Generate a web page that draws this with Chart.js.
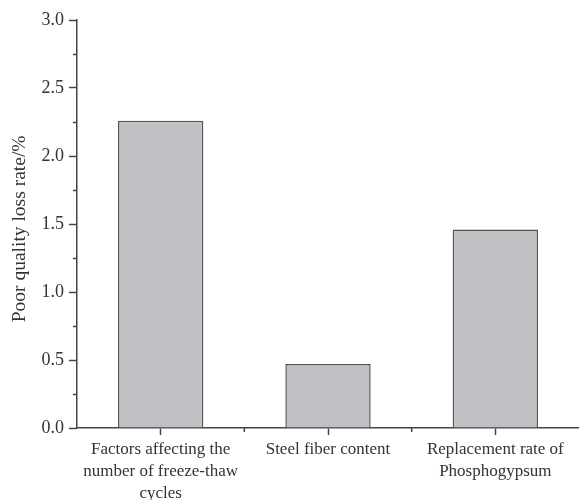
<!DOCTYPE html>
<html>
<head>
<meta charset="utf-8">
<script src="https://cdn.jsdelivr.net/npm/chart.js@4/dist/chart.umd.min.js"></script>
<style>
  html, body { margin: 0; padding: 0; background: #fff; }
  #wrap { width: 579px; height: 500px; }
</style>
</head>
<body>
<div id="wrap"><canvas id="lossChart" width="579" height="500"></canvas></div>
<script>
const categories = [
  ['Factors affecting the', 'number of freeze-thaw', 'cycles'],
  'Steel fiber content',
  ['Replacement rate of', 'Phosphogypsum']
];
const lossRates = [2.26, 0.47, 1.46];
const minorYTicks = [0.25, 0.75, 1.25, 1.75, 2.25, 2.75];

const axisColor = '#444';
const textColor = '#333';
const serif = '"Liberation Serif", "Times New Roman", serif';

// kleine Zwischenstriche (Minor Ticks) auf beiden Achsen
const minorTicks = {
  id: 'minorTicks',
  afterDraw(chart) {
    const { ctx, scales: { x, y } } = chart;
    ctx.save();
    ctx.strokeStyle = axisColor;
    ctx.lineWidth = 1.5;
    ctx.beginPath();
    minorYTicks.forEach(v => {
      const py = Math.round(y.getPixelForValue(v)) + 0.5;
      ctx.moveTo(x.left - 4, py);
      ctx.lineTo(x.left, py);
    });
    for (let i = 0; i < categories.length - 1; i++) {
      const px = (x.getPixelForValue(i) + x.getPixelForValue(i + 1)) / 2;
      ctx.moveTo(px, y.bottom);
      ctx.lineTo(px, y.bottom + 4);
    }
    ctx.stroke();
    ctx.restore();
  }
};

const ctx = document.getElementById('lossChart').getContext('2d');
new Chart(ctx, {
  type: 'bar',
  data: {
    labels: categories,
    datasets: [{
      data: lossRates,
      backgroundColor: '#c0c1c5',
      borderColor: '#555',
      borderWidth: 1.5,
      categoryPercentage: 1,
      barPercentage: 0.51
    }]
  },
  options: {
    responsive: false,
    animation: false,
    layout: { padding: { top: 20, right: 0, left: 0, bottom: 0 } },
    plugins: { legend: { display: false }, tooltip: { enabled: false } },
    scales: {
      x: {
        grid: { offset: false, drawOnChartArea: false, tickLength: 7, tickColor: axisColor, tickWidth: 1.5 },
        border: { color: axisColor, width: 1.5 },
        ticks: { color: textColor, font: { family: serif, size: 17, lineHeight: 1.3 }, padding: 3, maxRotation: 0, autoSkip: false },
        afterFit(scale) { scale.height = 72; }
      },
      y: {
        min: 0,
        max: 3,
        grid: { drawOnChartArea: false, tickLength: 8, tickColor: axisColor, tickWidth: 1.5 },
        border: { color: axisColor, width: 1.5 },
        ticks: {
          stepSize: 0.5,
          color: textColor,
          padding: 5,
          font: { family: serif, size: 18 },
          callback: v => v.toFixed(1)
        },
        title: {
          display: true,
          text: 'Poor quality loss rate/%  ',
          color: textColor,
          font: { family: serif, size: 19.5 },
          padding: { top: 8, bottom: 4 }
        },
        afterFit(scale) { scale.width = 77; }
      }
    }
  },
  plugins: [minorTicks]
});
</script>
</body>
</html>
